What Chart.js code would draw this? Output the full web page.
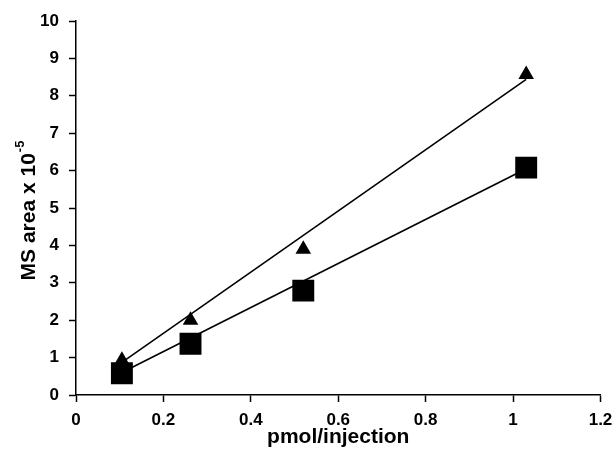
<!DOCTYPE html>
<html>
<head>
<meta charset="utf-8">
<script src="https://cdn.jsdelivr.net/npm/chart.js@4/dist/chart.umd.min.js"></script>
<style>
  html, body { margin: 0; padding: 0; background: #fff; overflow: hidden; }
  #wrap { width: 616px; height: 460px; }
</style>
</head>
<body>
<div id="wrap"><canvas id="calib"></canvas></div>
<script>
// pmol injected
const xVals = [0.105, 0.262, 0.52, 1.03];
// MS area x 10^-5, triangles and squares
const triVals = [0.93, 2.0, 3.9, 8.57];
const sqVals = [0.58, 1.37, 2.79, 6.08];
// fitted lines, read at the first and last x
const fitX = [0.105, 1.03];
const triFit = [0.87, 8.44];
const sqFit = [0.60, 6.05];

const xTicks = [0, 0.2, 0.4, 0.6, 0.8, 1, 1.2];
const yTicks = [0, 1, 2, 3, 4, 5, 6, 7, 8, 9, 10];

const pts = (xs, ys) => xs.map((x, i) => ({x: x, y: ys[i]}));

const FONT = '"Liberation Sans", Arial, sans-serif';

// y title with a raised exponent
const yTitle = {
    id: 'yTitle',
    afterDraw(chart) {
        const ctx = chart.ctx;
        const area = chart.chartArea;
        const main = 'MS area x 10';
        const sup = '-5';
        ctx.save();
        ctx.fillStyle = '#000';
        ctx.translate(29, (area.top + area.bottom) / 2 + 3);
        ctx.rotate(-Math.PI / 2);
        ctx.font = 'bold 21px ' + FONT;
        const w1 = ctx.measureText(main).width;
        ctx.font = 'bold 13px ' + FONT;
        const w2 = ctx.measureText(sup).width;
        const start = -(w1 + w2) / 2;
        ctx.textBaseline = 'middle';
        ctx.textAlign = 'left';
        ctx.font = 'bold 21px ' + FONT;
        ctx.fillText(main, start, 0);
        ctx.font = 'bold 13px ' + FONT;
        ctx.fillText(sup, start + w1 + 1, -9);
        ctx.restore();
    }
};

const axisGrid = {
    display: true,
    drawOnChartArea: false,
    drawTicks: true,
    tickLength: 7,
    tickColor: '#000',
    tickWidth: 1.5
};

new Chart(document.getElementById('calib'), {
    type: 'scatter',
    data: {
        datasets: [
            {
                label: 'triangles',
                data: pts(xVals, triVals),
                pointStyle: 'triangle',
                pointRadius: 9,
                backgroundColor: '#000',
                borderColor: '#000',
                borderWidth: 0,
                order: 1
            },
            {
                label: 'squares',
                data: pts(xVals, sqVals),
                pointStyle: 'rect',
                pointRadius: 15.5,
                backgroundColor: '#000',
                borderColor: '#000',
                borderWidth: 0,
                order: 2
            },
            {
                label: 'triangle fit',
                data: pts(fitX, triFit),
                showLine: true,
                pointRadius: 0,
                borderColor: '#000',
                borderWidth: 1.6,
                order: 3
            },
            {
                label: 'square fit',
                data: pts(fitX, sqFit),
                showLine: true,
                pointRadius: 0,
                borderColor: '#000',
                borderWidth: 1.6,
                order: 4
            }
        ]
    },
    options: {
        responsive: true,
        maintainAspectRatio: false,
        animation: false,
        events: [],
        layout: { padding: { left: 0, right: 0, top: 21, bottom: 0 } },
        plugins: {
            legend: { display: false },
            tooltip: { enabled: false }
        },
        scales: {
            x: {
                type: 'linear',
                min: 0,
                max: 1.2,
                afterBuildTicks: s => { s.ticks = xTicks.map(v => ({value: v})); },
                afterFit: s => { s.height = 65; s.paddingLeft = 0; s.paddingRight = 15; },
                border: { display: true, color: '#000', width: 1.5 },
                grid: axisGrid,
                ticks: {
                    color: '#000',
                    padding: 8,
                    maxRotation: 0,
                    font: { family: FONT, size: 17, weight: 'bold' },
                    callback: v => String(Math.round(v * 10) / 10)
                },
                title: {
                    display: true,
                    text: 'pmol/injection',
                    color: '#000',
                    padding: { top: 2, bottom: 10 },
                    font: { family: FONT, size: 21, weight: 'bold' }
                }
            },
            y: {
                type: 'linear',
                min: 0,
                max: 10,
                afterBuildTicks: s => { s.ticks = yTicks.map(v => ({value: v})); },
                afterFit: s => { s.width = 76; },
                border: { display: true, color: '#000', width: 1.5 },
                grid: axisGrid,
                ticks: {
                    color: '#000',
                    padding: 10,
                    font: { family: FONT, size: 17, weight: 'bold' }
                }
            }
        }
    },
    plugins: [yTitle]
});
</script>
</body>
</html>
